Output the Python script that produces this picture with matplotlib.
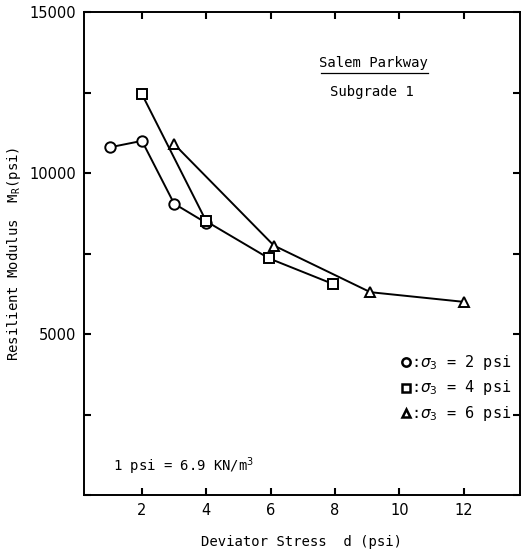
import matplotlib.pyplot as plt
from matplotlib.ticker import MultipleLocator

# Data
stress_s2 = [1, 2, 3, 4]
mr_s2 = [10800, 11000, 9050, 8450]

stress_s4 = [2, 4, 5.95, 7.95]
mr_s4 = [12450, 8500, 7350, 6550]

stress_s6 = [3, 6.1, 9.1, 12]
mr_s6 = [10900, 7750, 6300, 6000]

x_ticks = [2, 4, 6, 8, 10, 12]
y_ticks = [5000, 10000, 15000]

mono = 'DejaVu Sans Mono'

fig = plt.figure(figsize=(5.22, 5.5), dpi=100)
ax = fig.add_axes([0.161, 0.1, 0.835, 0.878])

mk = dict(color='black', lw=1.4, markersize=7.5, markerfacecolor='white',
          markeredgewidth=1.4)
ax.plot(stress_s2, mr_s2, marker='o', **mk)
ax.plot(stress_s4, mr_s4, marker='s', **{**mk, 'markersize': 6.5})
ax.plot(stress_s6, mr_s6, marker='^', **mk)

ax.set_xlim(0.2, 13.75)
ax.set_ylim(0, 15000)
ax.set_xticks(x_ticks)
ax.set_yticks(y_ticks)
ax.yaxis.set_minor_locator(MultipleLocator(2500))
ax.tick_params(direction='in', length=5, width=1.5, top=True, right=True,
               labelsize=10.5, pad=6)
ax.tick_params(which='minor', direction='in', length=5, width=1.5, left=True,
               right=True)
for s in ax.spines.values():
    s.set_linewidth(1.4)

ax.set_xlabel('Deviator Stress  d (psi)', family=mono, fontsize=10, labelpad=12)
ax.set_ylabel('Resilient Modulus  $\\mathtt{M_R}$(psi)', family=mono,
              fontsize=10)
ax.yaxis.set_label_coords(-0.14, 0.5)

ax.text(0.665, 0.895, 'Salem Parkway', transform=ax.transAxes, family=mono,
        fontsize=10, ha='center', va='center')
ax.plot([0.544, 0.789], [0.874, 0.874], transform=ax.transAxes, color='black',
        lw=0.9)
ax.text(0.66, 0.835, 'Subgrade 1', transform=ax.transAxes, family=mono,
        fontsize=10, ha='center', va='center')

legend_rows = [('o', '2'), ('s', '4'), ('^', '6')]
for i, (m, p) in enumerate(legend_rows):
    yy = 0.275 - i * 0.053
    ax.plot([0.738], [yy], marker=m, transform=ax.transAxes, color='black',
            markerfacecolor='white', markersize=6 if m != 's' else 5.5,
            markeredgewidth=1.8, clip_on=False)
    ax.text(0.751, yy, ':$\\sigma_3$ = %s psi' % p, transform=ax.transAxes,
            family=mono, fontsize=11, ha='left', va='center')

ax.text(0.066, 0.06, '1 psi = 6.9 KN/m$^3$', transform=ax.transAxes,
        family=mono, fontsize=10, ha='left', va='center')

fig.savefig('out.png', dpi=100)
